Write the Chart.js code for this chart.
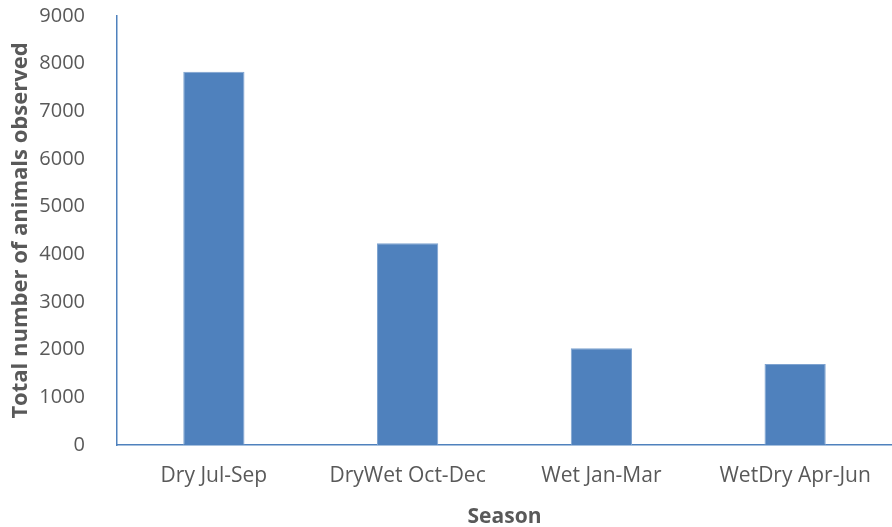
<!DOCTYPE html>
<html lang="en">

<head>
    <meta charset="UTF-8">
    <title>Season</title>
    <script src="https://cdn.jsdelivr.net/npm/chart.js"></script>
    <style>
        body { margin: 0; background: #fff; }
        #grafico { display: block; }
    </style>
</head>

<body>
    <canvas id="grafico" width="892" height="527"></canvas>
</body>

<script>
    // dados
    var estacoes = ['Dry Jul-Sep', 'DryWet Oct-Dec', 'Wet Jan-Mar', 'WetDry Apr-Jun'];
    var totalAnimais = [7830, 4230, 2030, 1700];
    var yMin = 0;
    var yMax = 9000;
    var yPasso = 1000;

    var azul = '#4F81BD';
    var cinza = '#595959';
    var fonte = "'Open Sans', 'Liberation Sans', sans-serif";

    new Chart(document.getElementById('grafico'), {
        type: 'bar',
        data: {
            labels: estacoes,
            datasets: [{
                label: 'Total',
                data: totalAnimais,
                backgroundColor: azul,
                borderColor: '#7EA3D0',
                borderWidth: 1,
                categoryPercentage: 1,
                barPercentage: 0.316
            }]
        },
        options: {
            responsive: false,
            animation: false,
            layout: { padding: { top: 16, right: 0, left: 0, bottom: 0 } },
            plugins: {
                legend: { display: false },
                tooltip: { enabled: false }
            },
            scales: {
                x: {
                    grid: { display: false },
                    border: { display: true, color: azul, width: 1.5 },
                    ticks: { color: cinza, font: { family: fonte, size: 21 }, padding: 10, maxRotation: 0 },
                    title: { display: true, text: 'Season', color: cinza, font: { family: fonte, size: 21, weight: 'bold' }, padding: { top: 4, bottom: -3 } },
                    afterFit: function (escala) {
                        escala.height = 82;
                        escala.paddingLeft = 0;
                        escala.paddingRight = 0;
                    }
                },
                y: {
                    min: yMin,
                    max: yMax,
                    grid: { display: false },
                    border: { display: true, color: azul, width: 1.5 },
                    ticks: {
                        stepSize: yPasso, color: cinza, font: { family: fonte, size: 20 }, padding: 24,
                        callback: function (valor) { return String(valor); }
                    },
                    title: { display: true, text: 'Total number of animals observed', color: cinza, font: { family: fonte, size: 22, weight: 'bold' }, padding: { top: 8, bottom: 0 } },
                    afterFit: function (escala) {
                        escala.width = 117;
                        escala.paddingTop = 0;
                        escala.paddingBottom = 0;
                    }
                }
            }
        }
    });
</script>

</html>
